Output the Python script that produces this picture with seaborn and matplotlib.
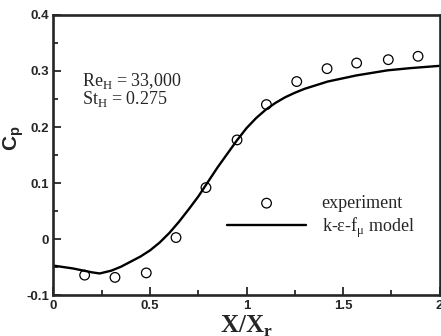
'''
Cp distribution behind the step: experiment vs k-e-f_mu model
'''

#%% imports
import matplotlib as mpl
mpl.use('Agg')
import matplotlib.pyplot as plt
import numpy as np
import pandas as pd
import seaborn as sns
sns.set_style('ticks')
plt.rcParams['mathtext.fontset'] = 'custom'
plt.rcParams['mathtext.rm'] = 'Liberation Serif'
plt.rcParams['mathtext.bf'] = 'Liberation Serif:bold'
plt.rcParams['mathtext.sf'] = 'Liberation Sans:bold'

#%% data
exp_x = [0.162, 0.319, 0.481, 0.635, 0.790, 0.951, 1.103, 1.260, 1.417, 1.570, 1.734, 1.888]
exp_cp = [-0.064, -0.068, -0.060, 0.003, 0.092, 0.177, 0.240, 0.281, 0.304, 0.314, 0.320, 0.326]

model_x = [0.0, 0.1, 0.2, 0.24, 0.3, 0.35, 0.4, 0.45, 0.5, 0.55, 0.6, 0.65, 0.7, 0.75, 0.8,
           0.85, 0.9, 0.95, 1.0, 1.05, 1.1, 1.15, 1.2, 1.25, 1.3, 1.42, 1.57, 1.73, 1.85, 2.0]
model_cp = [-0.047, -0.052, -0.059, -0.061, -0.056, -0.049, -0.040, -0.031, -0.020, -0.006,
            0.011, 0.031, 0.053, 0.076, 0.102, 0.128, 0.152, 0.176, 0.198, 0.216,
            0.231, 0.243, 0.253, 0.261, 0.268, 0.281, 0.292, 0.301, 0.305, 0.309]

exp_df = pd.DataFrame({'x': exp_x, 'cp': exp_cp})
mod_df = pd.DataFrame({'x': model_x, 'cp': model_cp})

#%% plot
fig = plt.figure(figsize=(4.41, 3.36), dpi=100)
ax = fig.add_axes([0.121, 0.121, 0.876, 0.835])

sns.lineplot(data=mod_df, x='x', y='cp', ax=ax, color='black', lw=1.7,
             label=r'k-$\mathrm{\epsilon}$-f$_\mathrm{\mu}$ model')
sns.scatterplot(data=exp_df, x='x', y='cp', ax=ax, s=48, marker='o',
                facecolor='none', edgecolor='black', linewidth=0.9,
                label='experiment', zorder=3)

ax.set(xlim=[0, 2], ylim=[-0.1, 0.4], xlabel='', ylabel='')
ax.set_xticks([0, 0.5, 1, 1.5, 2])
ax.set_xticklabels(['0', '0.5', '1', '1.5', '2'])
ax.set_yticks([-0.1, 0, 0.1, 0.2, 0.3, 0.4])
ax.set_yticklabels(['-0.1', '0', '0.1', '0.2', '0.3', '0.4'])
ax.xaxis.set_minor_locator(mpl.ticker.MultipleLocator(0.25))
ax.yaxis.set_minor_locator(mpl.ticker.MultipleLocator(0.05))
ax.tick_params(which='both', direction='in', width=1.3, labelsize=9.5, pad=3)
ax.tick_params(which='major', length=6)
ax.tick_params(which='minor', length=3.5)
for lab in ax.get_xticklabels() + ax.get_yticklabels():
    lab.set_fontfamily('Liberation Sans')
    lab.set_fontweight('bold')
for sp in ax.spines.values():
    sp.set_linewidth(1.9)

ax.set_xlabel(r'X/X$_\mathbf{r}$', fontfamily='Liberation Serif', fontweight='bold',
              fontsize=18, labelpad=2)
ax.set_ylabel(r'C$_\mathsf{p}$', fontfamily='Liberation Sans', fontweight='bold',
              fontsize=15)
ax.yaxis.set_label_coords(-0.072, 0.56)

ax.text(0.075, 0.80, 'Re$_\\mathrm{H}$ = 33,000\nSt$_\\mathrm{H}$ = 0.275',
        transform=ax.transAxes, fontfamily='Liberation Serif', fontsize=13,
        va='top', ha='left', linespacing=0.85)

h, l = ax.get_legend_handles_labels()
ax.legend(h[::-1], l[::-1], loc='upper left', bbox_to_anchor=(0.449, 0.358),
          frameon=False, borderaxespad=0, borderpad=0, handlelength=4.4,
          handletextpad=0.85, labelspacing=0.2,
          prop={'family': 'Liberation Serif', 'size': 13})

fig.savefig('out.png', dpi=100)
